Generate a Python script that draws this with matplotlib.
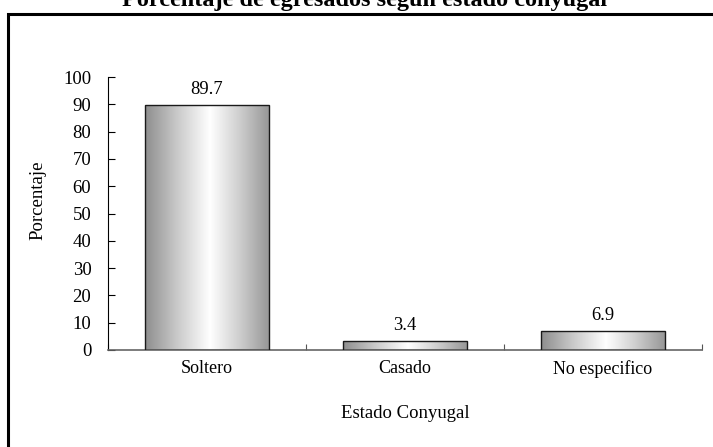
import numpy as np
import matplotlib
matplotlib.use("Agg")
import matplotlib.pyplot as plt
from matplotlib.patches import Rectangle
from matplotlib.colors import LinearSegmentedColormap

categories = ["Soltero", "Casado", "No especifico"]
values = [89.7, 3.4, 6.9]
y_ticks = [0, 10, 20, 30, 40, 50, 60, 70, 80, 90, 100]

plt.rcParams["font.family"] = ["Liberation Serif", "DejaVu Serif"]

W, H = 713, 447
fig = plt.figure(figsize=(W / 100, H / 100), dpi=100)

# outer chart frame (extends past the right and bottom edges)
frame = Rectangle((8 / W, -0.05), 1.2, 1 - 14 / H + 0.05, transform=fig.transFigure,
                  fill=False, edgecolor="black", linewidth=2.2)
fig.add_artist(frame)

fig.text(365 / W, 1 - 6 / H, "Porcentaje de egresados según estado conyugal",
         ha="center", va="baseline", fontsize=17.5, fontweight="bold")

ax = fig.add_axes([108 / W, 1 - 350 / H, (702 - 108) / W, (350 - 77) / H])

cmap = LinearSegmentedColormap.from_list(
    "bar", [(0, "#8e8e8e"), (0.25, "#c8c8c8"), (0.52, "#ffffff"), (0.75, "#d0d0d0"), (1, "#969696")])
grad = np.linspace(0, 1, 256).reshape(1, -1)

width = 0.63
bars = ax.bar(range(len(categories)), values, width=width, color="none",
              edgecolor="#1a1a1a", linewidth=1.0, zorder=3)
for b, v in zip(bars, values):
    x0 = b.get_x()
    im = ax.imshow(grad, cmap=cmap, aspect="auto", extent=(x0, x0 + width, 0, v),
                   zorder=2, interpolation="bilinear")
    im.set_clip_path(b)
    ax.text(b.get_x() + width / 2, v + 2.5, f"{v}", ha="center", va="bottom", fontsize=13.3)

ax.set_xlim(-0.5, len(categories) - 0.5)
ax.set_ylim(0, 100)
ax.set_yticks(y_ticks)
ax.set_yticklabels([str(t) for t in y_ticks], fontsize=13.5)
ax.set_xticks([-0.5, 0.5, 1.5, 2.5])
ax.set_xticklabels([])
ax.set_xticks(range(len(categories)), minor=True)
ax.set_xticklabels(categories, minor=True, fontsize=13)
ax.tick_params(axis="x", which="minor", length=0, pad=7)
ax.tick_params(axis="x", which="major", direction="in", length=4, color="#555555")
ax.tick_params(axis="y", direction="in", length=5, pad=12, color="black")

for s in ["top", "right"]:
    ax.spines[s].set_visible(False)
ax.spines["left"].set_color("black")
ax.spines["bottom"].set_color("#666666")
ax.spines["bottom"].set_linewidth(1.2)

ax.set_ylabel("Porcentaje", fontsize=13.5)
ax.yaxis.set_label_coords(-(108 - 46) / (702 - 108), (350 - 200) / (350 - 77))
ax.set_xlabel("Estado Conyugal", fontsize=13.5)
ax.xaxis.set_label_coords(0.5, -(405 - 350) / (350 - 77))

fig.savefig("out.png", dpi=100)
